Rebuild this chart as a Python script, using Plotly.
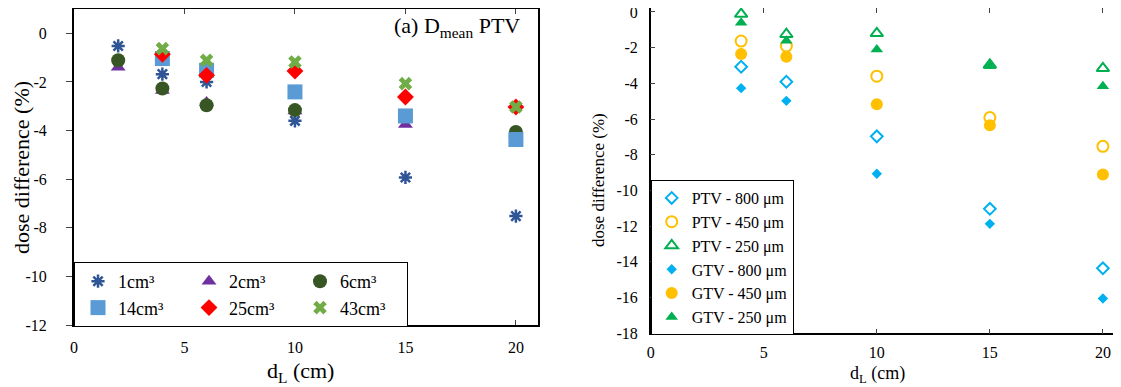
import plotly.graph_objects as go

# ---------------- data ----------------
# Left panel: (a) D_mean PTV, dose difference (%) vs d_L (cm)
dL_left = [2, 4, 6, 10, 15, 20]
vol_1cm3 = [-0.52, -1.68, -2.00, -3.60, -5.93, -7.52]
vol_2cm3 = [-1.40, -2.35, -2.85, -3.20, -3.75, -4.12]
vol_6cm3 = [-1.11, -2.27, -2.96, -3.16, -3.42, -4.06]
vol_14cm3 = [None, -1.04, -1.52, -2.41, -3.40, -4.37]
vol_25cm3 = [None, -0.86, -1.73, -1.55, -2.62, -3.03]
vol_43cm3 = [None, -0.63, -1.11, -1.18, -2.07, -3.03]
left_names = ["1cm³", "2cm³", "6cm³", "14cm³", "25cm³", "43cm³"]

# Right panel
dL_right = [4, 6, 10, 15, 20]
ptv_800 = [-3.07, -3.91, -6.97, -11.03, -14.36]
ptv_450 = [-1.63, -1.91, -3.60, -5.92, -7.53]
ptv_250 = [-0.12, -1.25, -1.20, -2.97, -3.16]
gtv_800 = [-4.27, -4.98, -9.06, -11.87, -16.05]
gtv_450 = [-2.36, -2.51, -5.17, -6.35, -9.10]
gtv_250 = [-0.60, -1.61, -2.10, -3.03, -4.16]
right_names = ["PTV - 800 μm", "PTV - 450 μm", "PTV - 250 μm",
               "GTV - 800 μm", "GTV - 450 μm", "GTV - 250 μm"]

x_ticks = [0, 5, 10, 15, 20]
x_ticktext = ["0", "5", "10", "15", "20"]
yl_ticks = [0, -2, -4, -6, -8, -10, -12]
yl_ticktext = ["0", "-2", "-4", "-6", "-8", "-10", "-12"]
yr_ticks = [0, -2, -4, -6, -8, -10, -12, -14, -16, -18]
yr_ticktext = ["0", "-2", "-4", "-6", "-8", "-10", "-12", "-14", "-16", "-18"]

FONT = "Liberation Serif, serif"
# the page body has an 8px margin, so the figure is 8px smaller than the window
OFF = 8
W, H = 1121 - OFF, 387 - OFF

fig = go.Figure()

# ---------------- left panel traces ----------------
left_values = [vol_1cm3, vol_2cm3, vol_6cm3, vol_14cm3, vol_25cm3, vol_43cm3]
left_styles = [
    dict(symbol="asterisk-open", color="#2F5597", size=11, line=dict(width=2.5, color="#2F5597")),
    dict(symbol="triangle-up", color="#7030A0", size=13, line=dict(width=0)),
    dict(symbol="circle", color="#375623", size=14, line=dict(width=0)),
    dict(symbol="square", color="#5B9BD5", size=15, line=dict(width=0)),
    dict(symbol="diamond", color="#FF0000", size=13, line=dict(width=0)),
    dict(symbol="x", color="#70AD47", size=12, line=dict(width=0)),
]
left_groups = ["c1", "c2", "c3", "c1", "c2", "c3"]
for name, vals, st, grp in zip(left_names, left_values, left_styles, left_groups):
    fig.add_trace(go.Scatter(
        x=dL_left, y=vals, mode="markers", name=name,
        marker=st, xaxis="x", yaxis="y", legend="legend",
        legendgroup=grp,
    ))

# ---------------- right panel traces ----------------
right_values = [ptv_800, ptv_450, ptv_250, gtv_800, gtv_450, gtv_250]
right_styles = [
    dict(symbol="diamond-open", color="#00B0F0", size=9, line=dict(width=2, color="#00B0F0")),
    dict(symbol="circle-open", color="#FFC000", size=11, line=dict(width=2, color="#FFC000")),
    dict(symbol="triangle-up-open", color="#00B050", size=11, line=dict(width=2, color="#00B050")),
    dict(symbol="diamond", color="#00B0F0", size=8, line=dict(width=0)),
    dict(symbol="circle", color="#FFC000", size=12, line=dict(width=0)),
    dict(symbol="triangle-up", color="#00B050", size=11, line=dict(width=0)),
]
for name, vals, st in zip(right_names, right_values, right_styles):
    fig.add_trace(go.Scatter(
        x=dL_right, y=vals, mode="markers", name=name,
        marker=st, xaxis="x2", yaxis="y2", legend="legend2",
    ))

# ---------------- layout ----------------
def px(v):
    return min(1.0, max(0.0, (v - OFF) / W))

def py(v):
    return min(1.0, max(0.0, 1 - (v - OFF) / H))

tickfont = dict(family=FONT, size=16, color="black")

fig.update_layout(
    width=W, height=H,
    margin=dict(l=0, r=0, t=0, b=0, autoexpand=False),
    paper_bgcolor="white", plot_bgcolor="white",
    font=dict(family=FONT, color="black"),
    showlegend=True,
    xaxis=dict(
        domain=[px(74), px(538)], range=[0, 21], anchor="y", automargin=False,
        tickvals=x_ticks, ticktext=x_ticktext, ticks="inside", ticklen=5,
        showline=True, linecolor="black", linewidth=2, mirror="ticks",
        showgrid=False, zeroline=False, tickfont=tickfont, ticklabelstandoff=7,
        ticklabeloverflow="allow",
    ),
    yaxis=dict(
        domain=[py(325), py(9)], range=[-12, 1], anchor="x", automargin=False,
        tickvals=yl_ticks, ticktext=yl_ticktext, ticks="outside", ticklen=6,
        showline=True, linecolor="black", linewidth=2, mirror=True,
        showgrid=False, zeroline=False, tickfont=tickfont, ticklabelstandoff=16,
        ticklabeloverflow="allow",
    ),
    yaxis3=dict(
        overlaying="y", side="right", anchor="x", range=[-12, 1], automargin=False,
        tickvals=yl_ticks, ticks="inside", ticklen=5, showticklabels=False,
        showline=False, showgrid=False, zeroline=False,
    ),
    xaxis2=dict(
        domain=[px(650.7), 1.0], range=[0, 20.8], anchor="y2", automargin=False,
        tickvals=x_ticks, ticktext=x_ticktext, ticks="inside", ticklen=5,
        showline=True, linecolor="black", linewidth=1.5, mirror="ticks",
        showgrid=False, zeroline=False, tickfont=tickfont, ticklabelstandoff=4,
        ticklabeloverflow="allow",
    ),
    yaxis2=dict(
        domain=[py(333.3), py(8)], range=[-18, 0.22], anchor="x2", automargin=False,
        tickvals=yr_ticks, ticktext=yr_ticktext, ticks="inside", ticklen=5,
        showline=True, linecolor="black", linewidth=1.5, mirror="ticks",
        showgrid=False, zeroline=False, tickfont=tickfont, ticklabelstandoff=8,
        ticklabeloverflow="allow",
    ),
    legend=dict(
        x=px(74), y=py(327), xanchor="left", yanchor="bottom",
        orientation="h", traceorder="grouped", tracegroupgap=0,
        entrywidth=62, indentation=4,
        bgcolor="white", bordercolor="black", borderwidth=1,
        font=dict(family=FONT, size=18, color="black"),
    ),
    legend2=dict(
        x=px(650.7), y=py(335), xanchor="left", yanchor="bottom",
        orientation="v", bgcolor="white", bordercolor="black", borderwidth=1,
        entrywidth=108,
        font=dict(family=FONT, size=16, color="black"),
    ),
)

annotations = [
    dict(text="dose difference (%)", x=px(22), y=py(168), xref="paper", yref="paper",
         textangle=-90, showarrow=False, xanchor="center", yanchor="middle",
         font=dict(family=FONT, size=22, color="black")),
    dict(text="d<sub>L</sub> (cm)", x=px(300), y=py(372), xref="paper", yref="paper",
         showarrow=False, xanchor="center", yanchor="middle",
         font=dict(family=FONT, size=22, color="black")),
    dict(text="(a) D<sub>mean</sub> PTV", x=px(522), y=py(27), xref="paper", yref="paper",
         showarrow=False, xanchor="right", yanchor="middle",
         font=dict(family=FONT, size=22, color="black")),
    dict(text="dose difference (%)", x=px(599), y=py(180), xref="paper", yref="paper",
         textangle=-90, showarrow=False, xanchor="center", yanchor="middle",
         font=dict(family=FONT, size=17, color="black")),
    dict(text="d<sub>L</sub> (cm)", x=px(877), y=py(374), xref="paper", yref="paper",
         showarrow=False, xanchor="center", yanchor="middle",
         font=dict(family=FONT, size=18, color="black")),
]
fig.update_layout(annotations=annotations)

fig.write_html("out.html")
